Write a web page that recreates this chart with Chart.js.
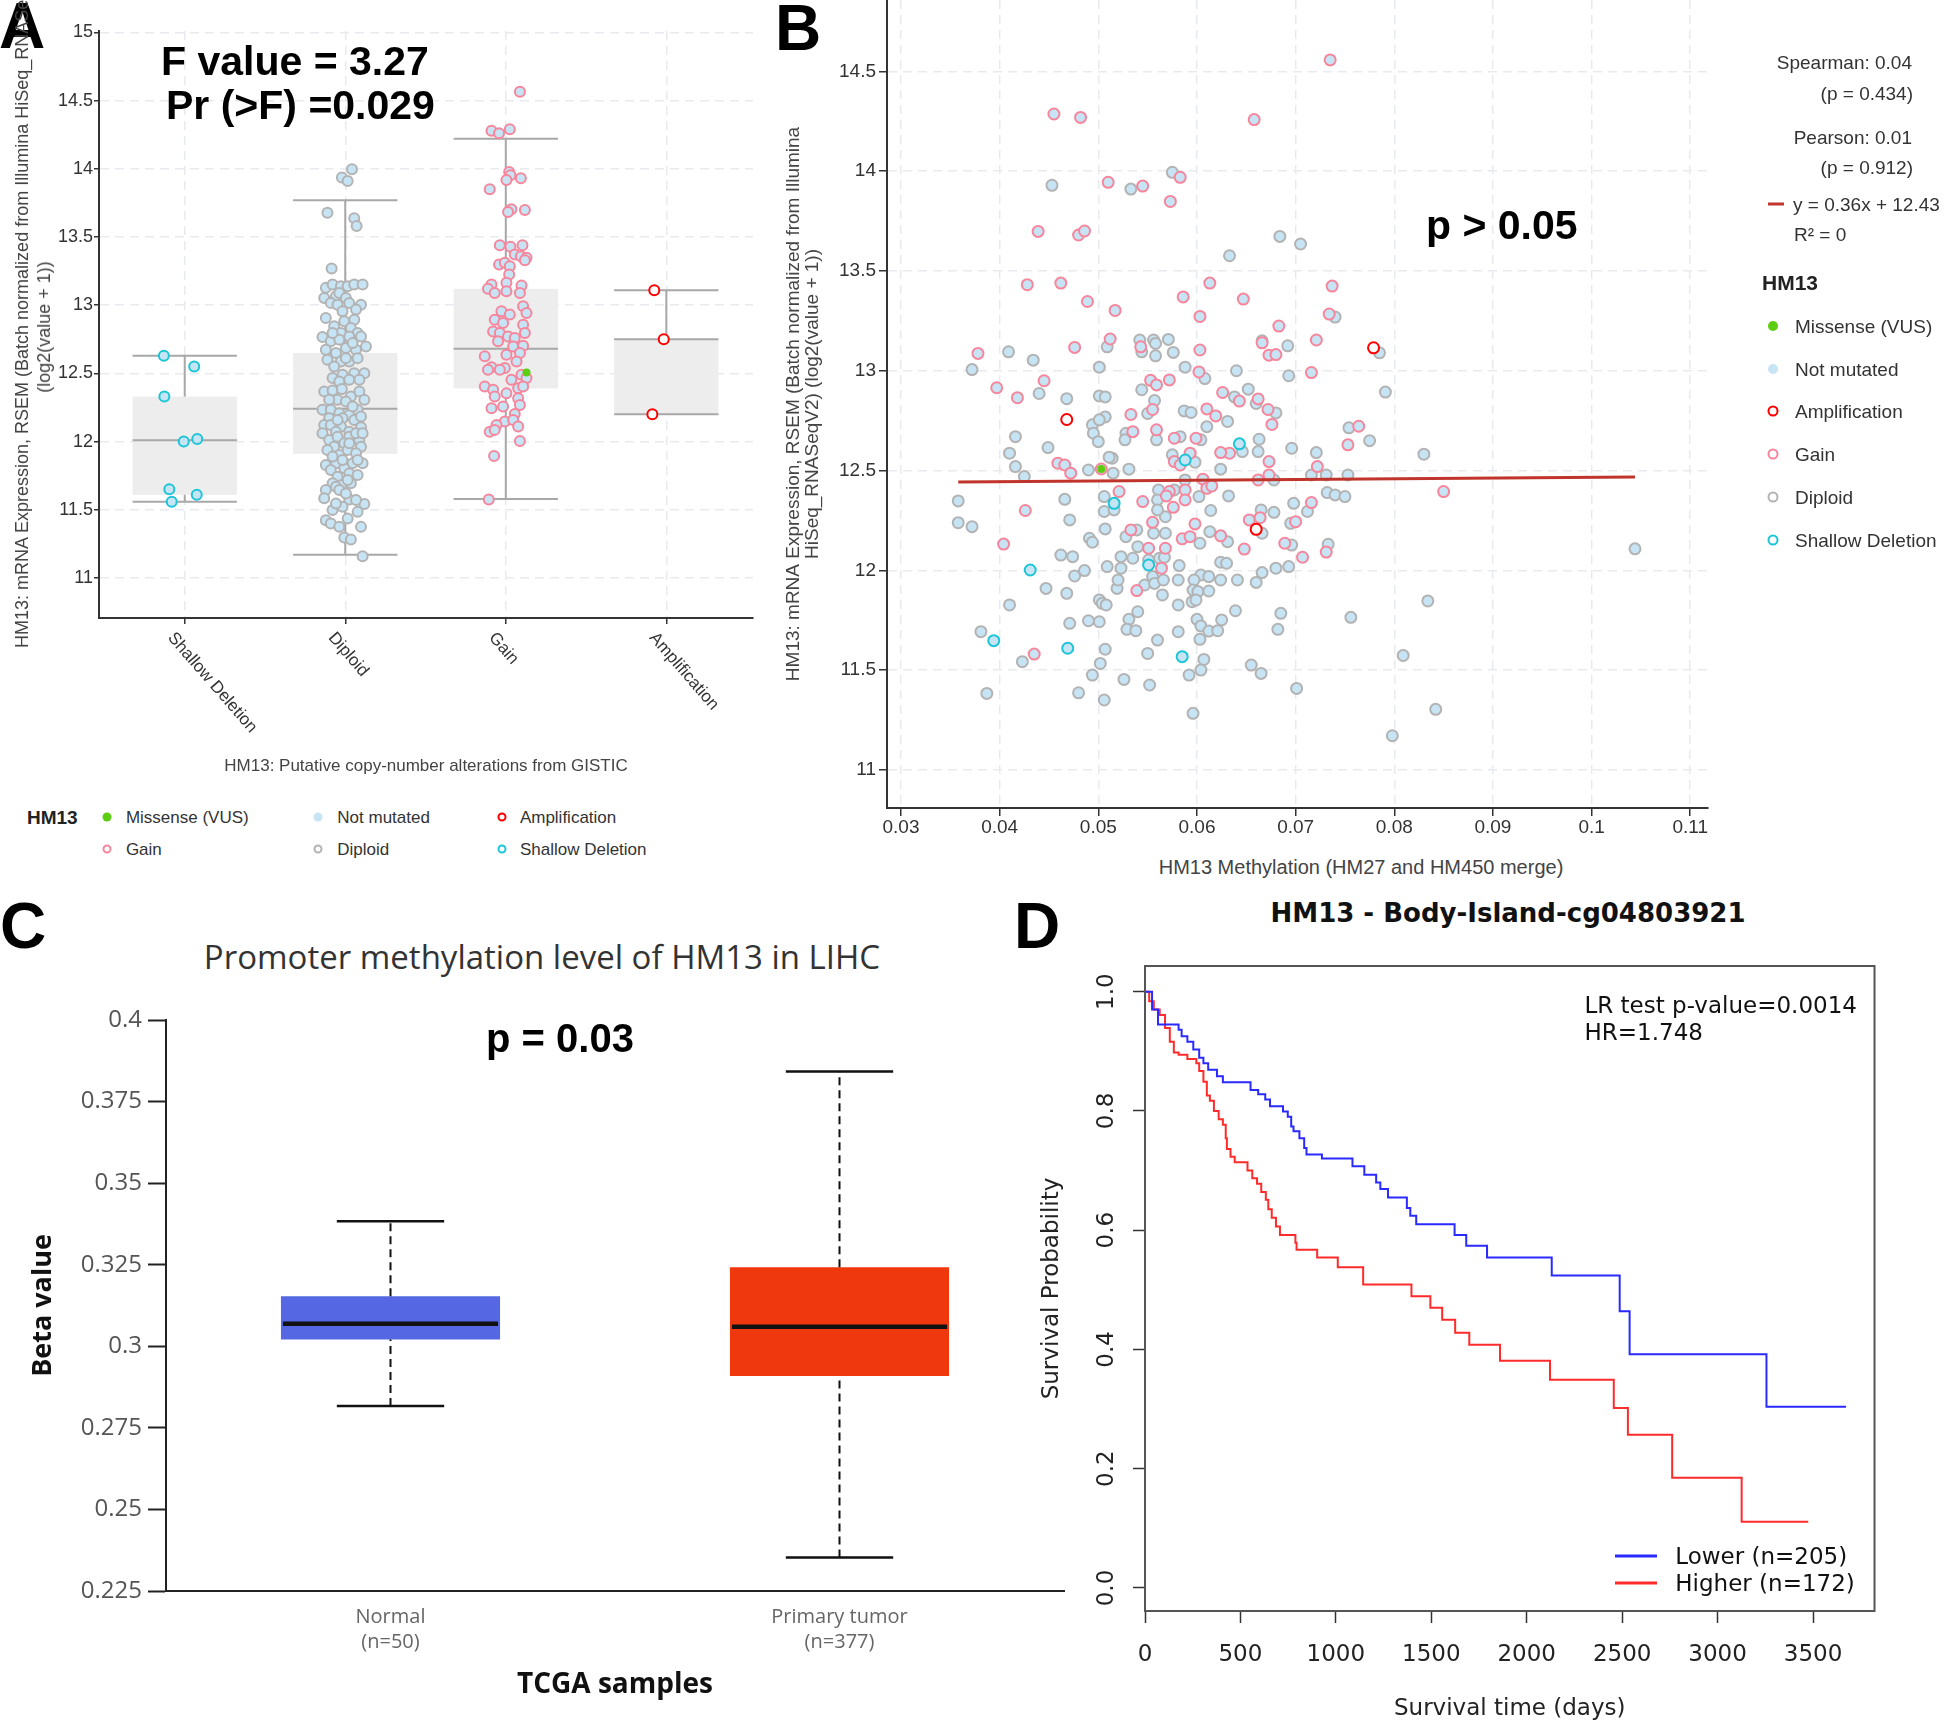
<!DOCTYPE html>
<html>
<head>
<meta charset="utf-8">
<script src="https://cdn.jsdelivr.net/npm/chart.js@4.4.1/dist/chart.umd.min.js"></script>
<style>
  html, body { margin: 0; padding: 0; background: #fff; }
  #page { position: relative; width: 1944px; height: 1726px; overflow: hidden; font-family: Arial, "Liberation Sans", sans-serif; }
  canvas { position: absolute; }
  .txt { position: absolute; white-space: nowrap; line-height: 1; }
  .mk { position: absolute; border-radius: 50%; box-sizing: border-box; transform: translate(-50%, -50%); }
  .ln { position: absolute; transform: translateY(-50%); }
</style>
</head>
<body>
<div id="page">
  <canvas id="cA" width="780" height="780" style="left:0;top:0"></canvas>
  <canvas id="cB" width="1174" height="850" style="left:770px;top:0"></canvas>
  <canvas id="cC" width="1066" height="736" style="left:0;top:990px"></canvas>
  <canvas id="cD" width="924" height="796" style="left:1020px;top:930px"></canvas>
</div>
<script>
const ARIAL = 'Arial, "Liberation Sans", sans-serif';
const OPEN = '"Open Sans", "Noto Sans", sans-serif';
const DEJA = '"DejaVu Sans", sans-serif';

// --- Panel A: expression by copy-number group ---
const cnaCategories = ['Shallow Deletion', 'Diploid', 'Gain', 'Amplification'];
const exprTicksA = [11, 11.5, 12, 12.5, 13, 13.5, 14, 14.5, 15];
const exprTickLabelsA = ['11', '11.5', '12', '12.5', '13', '13.5', '14', '14.5', '15'];
// [whisker low, q1, median, q3, whisker high]
const boxShallow = [11.56, 11.61, 12.01, 12.33, 12.63];
const boxDiploid = [11.17, 11.91, 12.24, 12.65, 13.77];
const boxGain = [11.58, 12.39, 12.68, 13.12, 14.22];
const boxAmp = [12.20, 12.20, 12.75, 12.75, 13.11];

// [jittered group position, expression]
const shallowA = [[-0.130,12.63],[0.059,12.55],[-0.127,12.33],[-0.006,12.00],[0.078,12.02],[-0.096,11.65],[-0.081,11.56],[0.075,11.61]];
const ampA = [[2.925,13.11],[2.984,12.75],[2.913,12.20]];
const missenseA = [[2.129,12.507]];
const gainA = [
  [2.088,14.565],[1.911,14.278],[1.958,14.261],[2.025,14.290],[2.021,13.977],[2.029,13.953],[2.004,13.918],[2.094,13.930],
  [1.900,13.850],[2.035,13.703],[2.014,13.683],[2.119,13.698],[1.963,13.440],[2.029,13.428],[2.104,13.440],[2.056,13.372],
  [2.094,13.359],[2.129,13.348],[1.958,13.298],[1.994,13.311],[2.025,13.286],[2.119,13.330],[2.021,13.225],
  [1.911,13.151],[2.004,13.164],[2.098,13.144],[1.889,13.120],[1.931,13.090],[2.004,13.102],[2.088,13.090],
  [2.108,12.992],[1.973,12.955],[2.025,12.931],[2.129,12.943],[1.931,12.894],[1.983,12.870],[2.108,12.857],
  [1.921,12.808],[1.963,12.796],[2.014,12.771],[2.119,12.796],[2.056,12.760],[1.952,12.735],
  [2.046,12.698],[2.108,12.703],[2.088,12.649],[2.004,12.637],[1.869,12.625],[2.067,12.588],[1.911,12.546],[1.994,12.539],
  [1.889,12.527],[1.963,12.527],[2.035,12.453],[2.098,12.490],[2.129,12.466],
  [1.869,12.404],[1.921,12.380],[2.004,12.355],[2.077,12.392],[2.108,12.404],[1.931,12.330],[2.077,12.318],
  [1.911,12.245],[1.983,12.257],[2.088,12.269],[2.056,12.203],[1.994,12.147],[1.942,12.122],[1.900,12.073],
  [1.931,12.086],[2.046,12.159],[2.077,12.110],[2.088,12.005],[1.927,11.895],[1.894,11.576]
];
const diploidA = [
  [1.042,13.997],[0.979,13.936],[1.015,13.911],[0.889,13.678],[1.056,13.637],[1.071,13.580],[0.915,13.269],
  [0.879,13.127],[0.921,13.151],[0.973,13.139],[1.015,13.139],[1.056,13.151],[1.108,13.151],
  [0.869,13.053],[0.942,13.065],[0.963,13.090],[1.004,13.053],[1.025,13.017],[1.098,13.004],[0.910,13.017],[0.952,13.004],
  [0.983,12.955],[1.067,12.968],[0.879,12.907],[0.931,12.845],[0.994,12.882],[1.056,12.894],[1.035,12.833],[1.077,12.796],
  [0.973,12.796],[0.858,12.767],[0.910,12.735],[1.025,12.771],[0.963,12.747],[0.879,12.674],[0.942,12.649],[1.004,12.686],
  [1.067,12.674],[1.129,12.698],[0.889,12.600],[0.973,12.588],[1.025,12.588],[1.077,12.612],[0.931,12.551],
  [0.921,12.466],[0.983,12.490],[1.056,12.502],[1.119,12.502],[0.963,12.441],[1.025,12.453],[1.088,12.453],
  [0.869,12.367],[0.921,12.375],[0.979,12.385],[1.035,12.330],[1.088,12.367],[1.119,12.306],[0.952,12.306],[1.004,12.294],
  [0.858,12.233],[0.910,12.233],[0.963,12.208],[1.025,12.196],[1.077,12.233],[0.900,12.172],[0.983,12.172],[1.056,12.159],
  [0.869,12.122],[0.910,12.122],[0.973,12.110],[1.098,12.105],[1.025,12.073],[0.942,12.073],
  [0.858,12.061],[0.900,12.012],[0.952,12.036],[1.025,12.036],[1.088,12.012],[0.994,11.988],[0.931,11.963],
  [0.889,11.939],[0.963,11.902],[1.015,11.939],[1.098,11.963],[1.067,11.914],
  [0.879,11.828],[0.942,11.841],[1.046,11.841],[1.108,11.841],[0.994,11.804],[0.910,11.792],
  [0.952,11.742],[1.025,11.767],[1.077,11.755],[0.921,11.694],[0.973,11.681],[1.035,11.694],
  [0.879,11.645],[0.869,11.584],[0.942,11.669],[1.025,11.576],[1.119,11.542],[0.921,11.498],[0.983,11.522],[1.077,11.485],
  [1.015,11.436],[0.879,11.424],[0.910,11.400],[0.963,11.375],[1.098,11.375],[0.994,11.297],[1.035,11.282],[1.108,11.160],
  [1.004,12.612],[1.046,12.722],[1.098,12.771],[0.921,12.796],[0.900,12.306],[1.046,12.257],[1.098,12.184],[0.952,12.159],
  [1.067,12.061],[1.108,12.061],[1.025,11.988],[0.921,11.890],[0.983,11.865],[1.077,11.865],[1.015,11.718],[0.963,11.645],
  [1.004,11.620],[1.067,11.572],[0.942,11.547]
];

// --- Panel B: methylation vs expression ---
const methTicksB = [0.03, 0.04, 0.05, 0.06, 0.07, 0.08, 0.09, 0.1, 0.11];
const methTickLabelsB = ['0.03', '0.04', '0.05', '0.06', '0.07', '0.08', '0.09', '0.1', '0.11'];
const exprTicksB = [11, 11.5, 12, 12.5, 13, 13.5, 14, 14.5];
const exprTickLabelsB = ['11', '11.5', '12', '12.5', '13', '13.5', '14', '14.5'];
const fitLineB = [[0.0358, 12.443], [0.1044, 12.468]];
const gainB = [
  [0.0735,14.557],[0.0455,14.286],[0.0482,14.269],[0.0658,14.258],[0.0510,13.944],[0.0545,13.925],[0.0583,13.969],[0.0573,13.848],
  [0.0439,13.698],[0.0480,13.680],[0.0486,13.700],[0.0428,13.431],[0.0462,13.439],[0.0613,13.439],[0.0586,13.370],[0.0647,13.359],
  [0.0737,13.424],[0.0489,13.347],[0.0517,13.302],[0.0603,13.272],[0.0734,13.284],[0.0683,13.224],[0.0512,13.159],[0.0721,13.154],
  [0.0476,13.117],[0.0378,13.087],[0.0543,13.120],[0.0603,13.104],[0.0666,13.140],[0.0673,13.078],[0.0680,13.081],[0.0602,12.994],
  [0.0716,12.991],[0.0397,12.915],[0.0445,12.950],[0.0418,12.865],[0.0553,12.952],[0.0559,12.929],[0.0572,12.954],[0.0626,12.891],
  [0.0643,12.848],[0.0662,12.859],[0.0610,12.809],[0.0619,12.774],[0.0533,12.781],[0.0555,12.806],[0.0672,12.806],[0.0764,12.722],
  [0.0676,12.731],[0.0535,12.695],[0.0559,12.704],[0.0577,12.662],[0.0599,12.662],[0.0633,12.587],[0.0624,12.590],[0.0753,12.629],
  [0.0459,12.537],[0.0466,12.528],[0.0472,12.487],[0.0503,12.508],[0.0577,12.545],[0.0583,12.528],[0.0593,12.587],[0.0673,12.545],
  [0.0673,12.478],[0.0722,12.520],[0.0606,12.457],[0.0662,12.453],[0.0426,12.300],[0.0521,12.395],[0.0545,12.345],[0.0572,12.395],
  [0.0588,12.403],[0.0588,12.353],[0.0576,12.316],[0.0569,12.373],[0.0610,12.411],[0.0615,12.423],[0.0716,12.340],[0.0850,12.395],
  [0.0653,12.253],[0.0664,12.264],[0.0700,12.244],[0.0404,12.132],[0.0533,12.203],[0.0555,12.241],[0.0551,12.111],[0.0568,12.111],
  [0.0585,12.158],[0.0593,12.169],[0.0598,12.233],[0.0624,12.173],[0.0648,12.107],[0.0689,12.136],[0.0707,12.066],[0.0731,12.092],
  [0.0564,12.011],[0.0539,11.899],[0.0435,11.581]
];
const diploidB = [
  [0.0533,13.910],[0.0575,13.994],[0.0453,13.929],[0.0684,13.673],[0.0705,13.635],[0.0633,13.576],[0.0740,13.269],[0.0409,13.095],
  [0.0434,13.053],[0.0372,13.006],[0.0509,13.120],[0.0542,13.154],[0.0556,13.154],[0.0571,13.157],[0.0544,13.095],[0.0558,13.075],
  [0.0576,13.092],[0.0558,13.137],[0.0666,13.150],[0.0692,13.125],[0.0785,13.090],[0.0501,13.018],[0.0588,13.018],[0.0608,12.961],
  [0.0640,13.000],[0.0693,12.975],[0.0440,12.886],[0.0468,12.860],[0.0501,12.874],[0.0507,12.869],[0.0544,12.905],[0.0557,12.851],
  [0.0638,12.869],[0.0652,12.908],[0.0660,12.836],[0.0791,12.893],[0.0587,12.799],[0.0594,12.791],[0.0550,12.786],[0.0507,12.769],
  [0.0680,12.789],[0.0631,12.746],[0.0754,12.714],[0.0494,12.729],[0.0501,12.754],[0.0495,12.687],[0.0500,12.645],[0.0416,12.670],
  [0.0528,12.687],[0.0527,12.654],[0.0559,12.654],[0.0583,12.670],[0.0604,12.654],[0.0610,12.720],[0.0410,12.587],[0.0449,12.615],
  [0.0663,12.657],[0.0662,12.595],[0.0646,12.595],[0.0696,12.612],[0.0721,12.590],[0.0775,12.650],[0.0830,12.582],[0.0416,12.520],
  [0.0425,12.470],[0.0490,12.503],[0.0515,12.487],[0.0514,12.562],[0.0511,12.567],[0.0531,12.507],[0.0575,12.579],[0.0598,12.542],
  [0.0624,12.507],[0.0678,12.453],[0.0716,12.478],[0.0731,12.478],[0.0753,12.478],[0.0588,12.453],[0.0358,12.348],[0.0358,12.239],
  [0.0372,12.219],[0.0466,12.356],[0.0471,12.253],[0.0506,12.370],[0.0506,12.295],[0.0516,12.303],[0.0561,12.403],[0.0560,12.353],
  [0.0577,12.403],[0.0568,12.269],[0.0560,12.303],[0.0602,12.370],[0.0632,12.373],[0.0614,12.300],[0.0698,12.336],[0.0712,12.295],
  [0.0732,12.390],[0.0740,12.378],[0.0750,12.370],[0.0665,12.303],[0.0678,12.291],[0.0695,12.236],[0.0666,12.186],[0.0491,12.161],
  [0.0494,12.141],[0.0507,12.208],[0.0528,12.169],[0.0539,12.203],[0.0556,12.186],[0.0568,12.186],[0.0603,12.136],[0.0613,12.194],
  [0.0631,12.144],[0.0696,12.127],[0.0733,12.131],[0.0462,12.077],[0.0474,12.069],[0.0540,12.119],[0.0523,12.069],[0.0535,12.061],
  [0.0551,12.052],[0.0562,12.061],[0.0567,12.066],[0.0486,11.999],[0.0476,11.972],[0.0509,12.019],[0.0523,12.011],[0.0555,11.969],
  [0.0582,12.024],[0.0581,11.952],[0.0604,11.977],[0.0612,11.969],[0.0597,11.952],[0.0624,12.041],[0.0630,12.036],[0.0624,11.952],
  [0.0641,11.952],[0.0660,11.940],[0.0666,11.989],[0.0680,12.011],[0.0693,12.019],[0.0447,11.910],[0.0468,11.885],[0.0519,11.910],
  [0.0520,11.952],[0.0547,11.927],[0.0557,11.935],[0.0566,11.952],[0.0565,11.877],[0.0596,11.902],[0.0601,11.894],[0.0612,11.897],
  [0.0410,11.827],[0.0501,11.852],[0.0504,11.835],[0.0508,11.827],[0.0581,11.827],[0.0595,11.843],[0.0599,11.852],[0.0540,11.793],
  [0.0639,11.798],[0.0685,11.785],[0.0834,11.847],[0.0756,11.765],[0.0381,11.693],[0.0490,11.748],[0.0501,11.743],[0.0471,11.735],
  [0.0531,11.755],[0.0529,11.705],[0.0538,11.698],[0.0581,11.693],[0.0600,11.755],[0.0604,11.722],[0.0612,11.696],[0.0621,11.698],
  [0.0625,11.752],[0.0682,11.705],[0.0603,11.655],[0.0560,11.651],[0.0423,11.543],[0.0507,11.605],[0.0502,11.534],[0.0550,11.584],
  [0.0607,11.554],[0.0655,11.526],[0.0665,11.484],[0.0809,11.574],[0.0494,11.476],[0.0526,11.454],[0.0592,11.476],[0.0604,11.501],
  [0.0552,11.426],[0.0387,11.384],[0.0480,11.387],[0.0506,11.351],[0.0701,11.409],[0.0596,11.284],[0.0842,11.304],[0.0798,11.172],
  [0.1044,12.108]
];
const shallowB = [[0.0643,12.634],[0.0588,12.553],[0.0516,12.336],[0.0431,12.002],[0.0551,12.027],[0.0394,11.648],[0.0469,11.610],[0.0585,11.568]];
const ampB = [[0.0779,13.115],[0.0468,12.756],[0.0660,12.206]];
const missenseB = [[0.0503,12.508]];
const statsB = ['Spearman: 0.04', '(p = 0.434)', 'Pearson: 0.01', '(p = 0.912)'];

// --- Panel C: promoter methylation ---
const sampleGroups = ['Normal', 'Primary tumor'];
const sampleCounts = ['(n=50)', '(n=377)'];
const betaTicks = [0.225, 0.25, 0.275, 0.3, 0.325, 0.35, 0.375, 0.4];
const betaTickLabels = ['0.225', '0.25', '0.275', '0.3', '0.325', '0.35', '0.375', '0.4'];
const statsNormal = [0.2817, 0.3021, 0.3069, 0.3153, 0.3383];
const statsTumor = [0.2353, 0.2909, 0.3060, 0.3242, 0.3842];

// --- Panel D: Kaplan-Meier ---
const timeTicks = [0, 500, 1000, 1500, 2000, 2500, 3000, 3500];
const survTicks = [0, 0.2, 0.4, 0.6, 0.8, 1.0];
const survTickLabels = ['0.0', '0.2', '0.4', '0.6', '0.8', '1.0'];
const lowTime = [0, 37, 68, 176, 192, 222, 253, 284, 306, 331, 377, 408, 553, 593, 630, 655, 723, 748, 766, 778, 809, 834, 846, 927, 1087, 1149, 1211, 1233, 1273, 1372, 1390, 1421, 1622, 1683, 1792, 2131, 2487, 2539, 3256, 3673];
const lowSurv = [1.0, 0.97, 0.945, 0.936, 0.925, 0.916, 0.903, 0.889, 0.88, 0.869, 0.858, 0.848, 0.835, 0.828, 0.819, 0.808, 0.799, 0.79, 0.774, 0.766, 0.754, 0.738, 0.727, 0.72, 0.707, 0.693, 0.68, 0.669, 0.655, 0.637, 0.624, 0.61, 0.592, 0.574, 0.554, 0.524, 0.464, 0.392, 0.304, 0.304];
const highTime = [0, 22, 46, 77, 105, 130, 151, 176, 222, 269, 284, 306, 324, 340, 361, 386, 408, 423, 429, 448, 470, 537, 562, 587, 609, 633, 646, 664, 686, 707, 788, 794, 902, 1010, 1143, 1396, 1495, 1557, 1625, 1699, 1860, 2122, 2456, 2530, 2762, 3126, 3475];
const highSurv = [1.0, 0.984, 0.97, 0.961, 0.939, 0.916, 0.898, 0.894, 0.887, 0.88, 0.867, 0.849, 0.826, 0.817, 0.8, 0.786, 0.777, 0.754, 0.736, 0.723, 0.714, 0.70, 0.687, 0.678, 0.664, 0.651, 0.635, 0.621, 0.606, 0.592, 0.579, 0.567, 0.554, 0.538, 0.509, 0.489, 0.47, 0.45, 0.428, 0.408, 0.381, 0.349, 0.302, 0.257, 0.185, 0.111, 0.111];

const legendNames = ['Missense (VUS)', 'Not mutated', 'Amplification', 'Gain', 'Diploid', 'Shallow Deletion'];

// colours
const FILL = '#c7e4f5';
const GREY = '#b3b3b3';
const PINK = '#f7869c';
const CYAN = '#1cc6d6';
const RED = '#ff0000';
const GREEN = '#5ccd12';
const legendMarks = [
  {fill: GREEN, edge: null}, {fill: FILL, edge: null}, {fill: '#fff', edge: RED},
  {fill: '#fff', edge: PINK}, {fill: '#fff', edge: GREY}, {fill: '#fff', edge: CYAN}
];

Chart.defaults.font.family = ARIAL;
const page = document.getElementById('page');

function pts(arr) {
  return arr.map(p => ({x: p[0], y: p[1]}));
}

function dotSet(arr, edge, fill, order, r, bw) {
  return {
    data: pts(arr), order: order,
    pointRadius: r || 5, pointHoverRadius: r || 5,
    pointBorderWidth: bw === undefined ? 2 : bw,
    pointBorderColor: edge, pointBackgroundColor: fill,
    borderColor: edge, backgroundColor: fill
  };
}

// fixed axis sizes so the plot areas land where the reference has them
function fixV(w) {
  return s => { s.width = w; s.paddingTop = 0; s.paddingBottom = 0; };
}
function fixH(h) {
  return s => { s.height = h; s.paddingLeft = 0; s.paddingRight = 0; };
}

function addText(text, x, y, o) {
  const d = document.createElement('div');
  d.className = 'txt';
  d.textContent = text;
  d.style.left = x + 'px';
  d.style.top = y + 'px';
  d.style.fontSize = o.size + 'px';
  d.style.fontFamily = o.family || ARIAL;
  d.style.fontWeight = o.bold ? 'bold' : 'normal';
  d.style.color = o.color || '#333';
  const ax = o.align === 'center' ? '-50%' : (o.align === 'right' ? '-100%' : '0');
  d.style.transform = 'translate(' + ax + ',-50%)' + (o.rotate ? ' rotate(' + o.rotate + 'deg)' : '');
  page.appendChild(d);
  return d;
}

function addMark(x, y, size, fill, edge, bw) {
  const d = document.createElement('div');
  d.className = 'mk';
  d.style.left = x + 'px';
  d.style.top = y + 'px';
  d.style.width = size + 'px';
  d.style.height = size + 'px';
  d.style.background = fill;
  if (edge) d.style.border = bw + 'px solid ' + edge;
  page.appendChild(d);
}

function addLine(x, y, w, h, color) {
  const d = document.createElement('div');
  d.className = 'ln';
  d.style.left = x + 'px';
  d.style.top = y + 'px';
  d.style.width = w + 'px';
  d.style.height = h + 'px';
  d.style.background = color;
  page.appendChild(d);
}

const dashGrid = {color: '#e7ebef', lineWidth: 1.5, tickColor: '#333', tickWidth: 1.5};

// ---------------- Panel A ----------------
const boxPluginA = {
  id: 'boxesA',
  beforeDatasetsDraw(chart) {
    const {ctx, scales: {x, y}} = chart;
    const hw = x.getPixelForValue(0.325) - x.getPixelForValue(0);
    ctx.save();
    [boxShallow, boxDiploid, boxGain, boxAmp].forEach((s, i) => {
      const xc = x.getPixelForValue(i);
      const py = s.map(v => y.getPixelForValue(v));
      ctx.fillStyle = '#ededed';
      ctx.fillRect(xc - hw, py[3], hw * 2, py[1] - py[3]);
      ctx.strokeStyle = '#a8a8a8';
      ctx.lineWidth = 2;
      ctx.beginPath();
      ctx.moveTo(xc, py[0]); ctx.lineTo(xc, py[1]);
      ctx.moveTo(xc, py[3]); ctx.lineTo(xc, py[4]);
      ctx.moveTo(xc - hw, py[0]); ctx.lineTo(xc + hw, py[0]);
      ctx.moveTo(xc - hw, py[4]); ctx.lineTo(xc + hw, py[4]);
      ctx.moveTo(xc - hw, py[2]); ctx.lineTo(xc + hw, py[2]);
      ctx.stroke();
    });
    ctx.restore();
  }
};

const xLabelsA = {
  id: 'xLabelsA',
  afterDraw(chart) {
    const {ctx, scales: {x}} = chart;
    ctx.save();
    ctx.font = '17px ' + ARIAL;
    ctx.fillStyle = '#333';
    ctx.textAlign = 'left';
    ctx.textBaseline = 'middle';
    cnaCategories.forEach((c, i) => {
      ctx.save();
      ctx.translate(x.getPixelForValue(i) - 14, x.top + 17);
      ctx.rotate(49 * Math.PI / 180);
      ctx.fillText(c, 0, 0);
      ctx.restore();
    });
    ctx.restore();
  }
};

new Chart(document.getElementById('cA'), {
  type: 'scatter',
  data: {
    datasets: [
      dotSet(missenseA, GREEN, GREEN, 0, 4, 0),
      dotSet(ampA, RED, '#ffffff', 1),
      dotSet(shallowA, CYAN, FILL, 2),
      dotSet(gainA, PINK, FILL, 3),
      dotSet(diploidA, GREY, FILL, 4)
    ]
  },
  options: {
    responsive: false,
    animation: false,
    layout: {autoPadding: false, padding: {top: 31, right: 27, left: 0, bottom: 0}},
    plugins: {legend: {display: false}, tooltip: {enabled: false}},
    scales: {
      x: {
        type: 'linear', min: -0.534, max: 3.54,
        afterBuildTicks: s => { s.ticks = cnaCategories.map((c, i) => ({value: i})); },
        afterFit: fixH(162),
        ticks: {callback: () => '', autoSkip: false},
        grid: Object.assign({tickLength: 6}, dashGrid),
        border: {color: '#333', width: 2, dash: [9, 6]},
        title: {display: true, text: 'HM13: Putative copy-number alterations from GISTIC', color: '#444',
                font: {size: 17}, padding: {top: 0, bottom: 3}}
      },
      y: {
        min: 10.707, max: 15.01,
        afterBuildTicks: s => { s.ticks = exprTicksA.map(v => ({value: v})); },
        afterFit: fixV(99),
        ticks: {color: '#333', font: {size: 18}, padding: 1, autoSkip: false,
                callback: (v, i) => exprTickLabelsA[i]},
        grid: Object.assign({tickLength: 5}, dashGrid),
        border: {color: '#333', width: 2, dash: [9, 6]}
      }
    }
  },
  plugins: [boxPluginA, xLabelsA]
});

// ---------------- Panel B ----------------
new Chart(document.getElementById('cB'), {
  type: 'scatter',
  data: {
    datasets: [
      {type: 'line', data: pts(fitLineB), borderColor: '#c1342c', borderWidth: 3, pointRadius: 0, order: 0},
      dotSet(missenseB, GREEN, GREEN, 1, 4, 0),
      dotSet(ampB, RED, '#ffffff', 2, 5.5),
      dotSet(shallowB, CYAN, FILL, 3, 5.5),
      dotSet(gainB, PINK, FILL, 4, 5.5),
      dotSet(diploidB, GREY, FILL, 5, 5.5)
    ]
  },
  options: {
    responsive: false,
    animation: false,
    layout: {autoPadding: false, padding: {top: 0, right: 236, left: 0, bottom: 0}},
    plugins: {legend: {display: false}, tooltip: {enabled: false}},
    scales: {
      x: {
        type: 'linear', min: 0.02858, max: 0.1118,
        afterBuildTicks: s => { s.ticks = methTicksB.map(v => ({value: v})); },
        afterFit: fixH(42),
        ticks: {color: '#333', font: {size: 19}, padding: 0, autoSkip: false, maxRotation: 0,
                callback: (v, i) => methTickLabelsB[i]},
        grid: Object.assign({tickLength: 8}, dashGrid),
        border: {color: '#333', width: 2, dash: [9, 6]}
      },
      y: {
        min: 10.81, max: 14.857,
        afterBuildTicks: s => { s.ticks = exprTicksB.map(v => ({value: v})); },
        afterFit: fixV(117),
        ticks: {color: '#333', font: {size: 19}, padding: 3, autoSkip: false,
                callback: (v, i) => exprTickLabelsB[i]},
        grid: Object.assign({tickLength: 8}, dashGrid),
        border: {color: '#333', width: 2, dash: [9, 6]},
        title: {display: true, color: '#444', font: {size: 19, lineHeight: 1.0}, padding: {top: 14.5, bottom: 0},
                text: ['HM13: mRNA Expression, RSEM (Batch normalized from Illumina', 'HiSeq_RNASeqV2) (log2(value + 1))']}
      }
    }
  }
});

// ---------------- Panel C ----------------
const whiskerC = {
  id: 'whiskerC',
  afterDatasetsDraw(chart) {
    const {ctx, scales: {y}} = chart;
    const bars = chart.getDatasetMeta(0).data;
    ctx.save();
    ctx.strokeStyle = '#111';
    [statsNormal, statsTumor].forEach((s, i) => {
      const xc = bars[i].x;
      const hw = bars[i].width / 2;
      const cw = hw * 0.49;
      const py = s.map(v => y.getPixelForValue(v));
      ctx.lineWidth = 2;
      ctx.setLineDash([8, 5]);
      ctx.beginPath();
      ctx.moveTo(xc, py[0]); ctx.lineTo(xc, py[1]);
      ctx.moveTo(xc, py[3]); ctx.lineTo(xc, py[4]);
      ctx.stroke();
      ctx.setLineDash([]);
      ctx.lineWidth = 2.5;
      ctx.beginPath();
      ctx.moveTo(xc - cw, py[0]); ctx.lineTo(xc + cw, py[0]);
      ctx.moveTo(xc - cw, py[4]); ctx.lineTo(xc + cw, py[4]);
      ctx.stroke();
      ctx.lineWidth = 4.5;
      ctx.beginPath();
      ctx.moveTo(xc - hw + 2, py[2]); ctx.lineTo(xc + hw - 2, py[2]);
      ctx.stroke();
    });
    ctx.restore();
  }
};

new Chart(document.getElementById('cC'), {
  type: 'bar',
  data: {
    labels: sampleGroups.map((g, i) => [g, sampleCounts[i]]),
    datasets: [{
      data: [[statsNormal[1], statsNormal[3]], [statsTumor[1], statsTumor[3]]],
      backgroundColor: ['#5567e3', '#f0380f'],
      borderWidth: 0,
      barPercentage: 0.488,
      categoryPercentage: 1
    }]
  },
  options: {
    responsive: false,
    animation: false,
    layout: {autoPadding: false, padding: {top: 30, right: 2, left: 0, bottom: 0}},
    plugins: {legend: {display: false}, tooltip: {enabled: false}},
    scales: {
      x: {
        afterFit: fixH(135),
        ticks: {color: '#666', font: {size: 20, family: OPEN, lineHeight: 1.25}, padding: 13.3, maxRotation: 0},
        grid: {display: false, drawTicks: false},
        border: {color: '#222', width: 2},
        title: {display: true, text: 'TCGA samples', color: '#111',
                font: {size: 28, weight: 'bold', family: OPEN}, padding: {top: 0, bottom: 24}}
      },
      y: {
        min: 0.225, max: 0.4,
        afterBuildTicks: s => { s.ticks = betaTicks.map(v => ({value: v})); },
        afterFit: fixV(166),
        ticks: {color: '#555', font: {size: 24, family: OPEN}, padding: 6, autoSkip: false,
                callback: (v, i) => betaTickLabels[i]},
        grid: {drawOnChartArea: false, tickLength: 18, tickColor: '#222', tickWidth: 2},
        border: {color: '#222', width: 2},
        title: {display: true, text: 'Beta value', color: '#111',
                font: {size: 27, weight: 'bold', family: OPEN}, padding: {top: 27, bottom: 0}}
      }
    }
  },
  plugins: [whiskerC]
});

// ---------------- Panel D ----------------
const frameD = {
  id: 'frameD',
  afterDraw(chart) {
    const {ctx, chartArea: a, scales: {y}} = chart;
    ctx.save();
    ctx.strokeStyle = '#555';
    ctx.lineWidth = 2;
    ctx.strokeRect(a.left, a.top, a.right - a.left, a.bottom - a.top);
    ctx.fillStyle = '#222';
    ctx.font = '23px ' + DEJA;
    ctx.textAlign = 'center';
    ctx.textBaseline = 'middle';
    survTicks.forEach((v, i) => {
      ctx.save();
      ctx.translate(87, y.getPixelForValue(v));
      ctx.rotate(-Math.PI / 2);
      ctx.fillText(survTickLabels[i], 0, 0);
      ctx.restore();
    });
    ctx.restore();
  }
};

new Chart(document.getElementById('cD'), {
  type: 'line',
  data: {
    datasets: [
      {data: lowTime.map((t, i) => ({x: t, y: lowSurv[i]})), borderColor: '#2a2aff', borderWidth: 2,
       pointRadius: 0, stepped: 'before'},
      {data: highTime.map((t, i) => ({x: t, y: highSurv[i]})), borderColor: '#ff2a2a', borderWidth: 2,
       pointRadius: 0, stepped: 'before'}
    ]
  },
  options: {
    responsive: false,
    animation: false,
    layout: {autoPadding: false, padding: {top: 36, right: 69.5, left: 0, bottom: 0}},
    plugins: {legend: {display: false}, tooltip: {enabled: false}},
    scales: {
      x: {
        type: 'linear', min: 0, max: 3822,
        afterBuildTicks: s => { s.ticks = timeTicks.map(v => ({value: v})); },
        afterFit: fixH(115),
        ticks: {color: '#222', font: {size: 23, family: DEJA}, padding: 18.7, autoSkip: false, maxRotation: 0,
                callback: v => String(v)},
        grid: {drawOnChartArea: false, tickLength: 12, tickColor: '#333', tickWidth: 1.5},
        border: {display: false},
        title: {display: true, text: 'Survival time (days)', color: '#222',
                font: {size: 23, family: DEJA}, padding: {top: 0, bottom: 3.5}}
      },
      y: {
        min: -0.0386, max: 1.043,
        afterBuildTicks: s => { s.ticks = survTicks.map(v => ({value: v})); },
        afterFit: fixV(125),
        ticks: {callback: () => '', autoSkip: false},
        grid: {drawOnChartArea: false, tickLength: 12, tickColor: '#333', tickWidth: 1.5},
        border: {display: false},
        title: {display: true, text: 'Survival Probability', color: '#222',
                font: {size: 23, family: DEJA}, padding: {top: 18.6, bottom: 0}}
      }
    }
  },
  plugins: [frameD]
});

// ---------------- HTML text ----------------
// panel letters
addText('A', -1, 26, {size: 64, bold: true, color: '#000'});
addText('B', 775, 28, {size: 64, bold: true, color: '#000'});
addText('C', 0, 926, {size: 64, bold: true, color: '#000'});
addText('D', 1014, 926, {size: 64, bold: true, color: '#000'});

// panel A annotations and titles
addText('F value = 3.27', 161, 61, {size: 41, bold: true, color: '#000'});
addText('Pr (>F) =0.029', 166, 105, {size: 41, bold: true, color: '#000'});
const yA1 = addText('HM13: mRNA Expression, RSEM (Batch normalized from Illumina HiSeq_RNASeqV2)', 13, 648, {size: 18, color: '#444'});
yA1.style.transformOrigin = '0 0';
yA1.style.transform = 'rotate(-90deg)';
addText('(log2(value + 1))', 44, 327, {size: 18, color: '#444', align: 'center', rotate: -90});

// panel A legend
addText('HM13', 27, 817, {size: 19, bold: true, color: '#222'});
const legA = [[106.5, 125.9], [318.4, 337.3], [501.5, 519.9]];
legendNames.forEach((name, i) => {
  const col = i % 3, row = Math.floor(i / 3);
  const y = row === 0 ? 817 : 849;
  const m = legendMarks[i];
  addMark(legA[col][0], y, 9, m.fill, m.edge, 2);
  addText(name, legA[col][1], y, {size: 17, color: '#333'});
});

// panel B annotations
addText('p > 0.05', 1426, 225, {size: 41, bold: true, color: '#000'});
addText(statsB[0], 1912, 62, {size: 19, color: '#333', align: 'right'});
addText(statsB[1], 1913, 92.6, {size: 19, color: '#333', align: 'right'});
addText(statsB[2], 1912, 137, {size: 19, color: '#333', align: 'right'});
addText(statsB[3], 1913, 166.7, {size: 19, color: '#333', align: 'right'});
addLine(1768, 203.7, 16, 3, '#c1342c');
addText('y = 0.36x + 12.43', 1793, 204.4, {size: 19, color: '#333'});
addText('R\u00B2 = 0', 1794, 234, {size: 19, color: '#333'});
addText('HM13', 1762, 282, {size: 21, bold: true, color: '#222'});
const legBy = [325.9, 368.5, 411, 454.4, 497, 540];
legendNames.forEach((name, i) => {
  const m = legendMarks[i];
  addMark(1772.7, legBy[i], i < 2 ? 10 : 11, m.fill, m.edge, 2.5);
  addText(name, 1795, legBy[i], {size: 19, color: '#333'});
});
addText('HM13 Methylation (HM27 and HM450 merge)', 1361, 866.7, {size: 20, color: '#444', align: 'center'});

// panel C annotations
addText('Promoter methylation level of HM13 in LIHC', 542, 956, {size: 33, color: '#333', family: OPEN, align: 'center'});
addText('p = 0.03', 486, 1038, {size: 40, bold: true, color: '#000'});

// panel D annotations
addText('HM13 - Body-Island-cg04803921', 1508, 913, {size: 26, bold: true, color: '#111', family: DEJA, align: 'center'});
addText('LR test p-value=0.0014', 1584.5, 1004.5, {size: 23, color: '#111', family: DEJA});
addText('HR=1.748', 1584.5, 1032.4, {size: 23, color: '#111', family: DEJA});
addLine(1615, 1556.2, 42, 3, '#2a2aff');
addText('Lower (n=205)', 1675.3, 1556.2, {size: 23, color: '#111', family: DEJA});
addLine(1615, 1583, 42, 3, '#ff2a2a');
addText('Higher (n=172)', 1675.3, 1583, {size: 23, color: '#111', family: DEJA});
</script>
</body>
</html>
